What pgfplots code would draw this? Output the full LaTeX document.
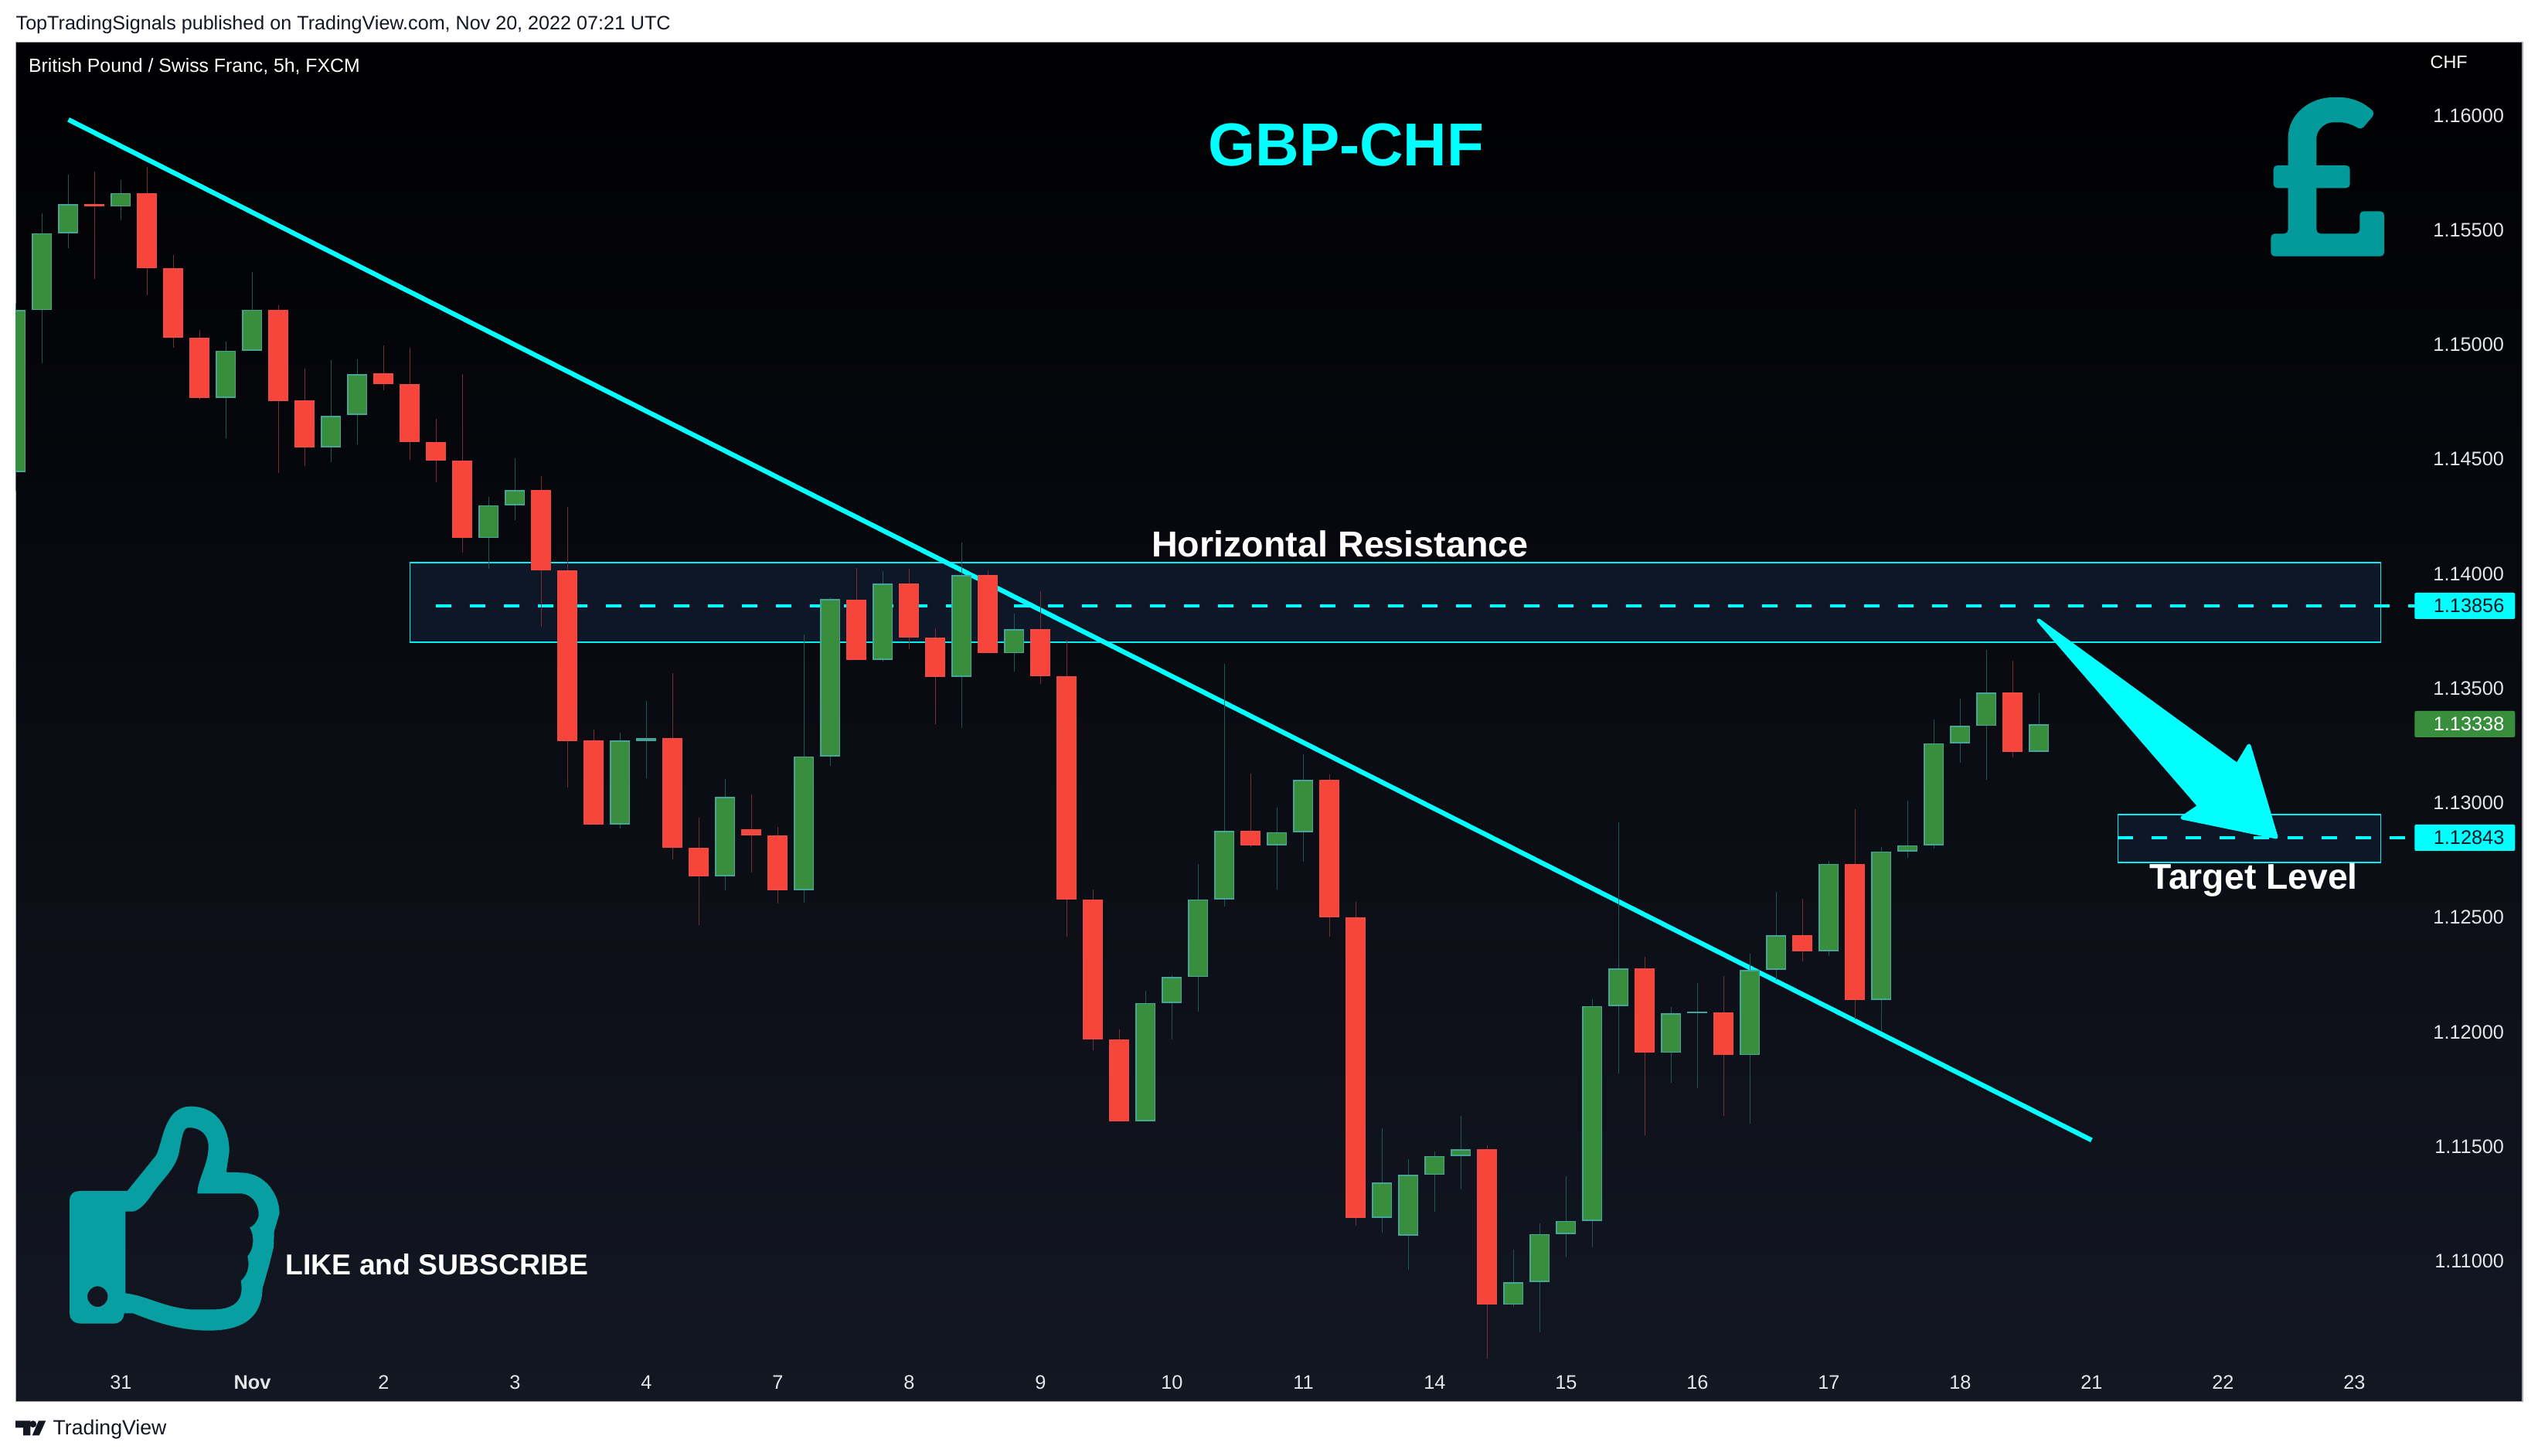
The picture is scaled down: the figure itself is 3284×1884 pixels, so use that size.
\documentclass[border=0pt]{standalone}
\usepackage{pgfplots}
\usepackage{pgfplotstable}
\usepackage{fontspec}
\setmainfont{Liberation Sans}
\pgfplotsset{compat=1.18}

\definecolor{bgtop}{HTML}{000002}
\definecolor{bgbot}{HTML}{131722}
\definecolor{frame}{HTML}{A5A9B3}
\definecolor{up}{HTML}{388E3C}
\definecolor{upedge}{HTML}{45A598}
\definecolor{upwick}{HTML}{1A5A56}
\definecolor{down}{HTML}{F7453B}
\definecolor{downedge}{HTML}{EF4A44}
\definecolor{downwick}{HTML}{7A2E33}
\definecolor{zone}{HTML}{0E1727}
\definecolor{zonecyan}{HTML}{00F0F0}
\definecolor{aqua}{HTML}{00FFFF}
\definecolor{ticktext}{HTML}{E4E6EA}
\definecolor{icon}{HTML}{089FA3}
\definecolor{pound}{HTML}{029A9B}
\definecolor{ink}{HTML}{131722}

% i top bottom high low, prices
\pgfplotstableread{
i top bot high low
-4 1.15146 1.14440 1.15174 1.14358
-3 1.15483 1.15146 1.15569 1.14913
-2 1.15608 1.15483 1.15738 1.15416
0 1.15658 1.15598 1.15713 1.15540
4 1.14970 1.14762 1.15010 1.14589
5 1.15149 1.14970 1.15312 1.14970
8 1.14686 1.14548 1.14929 1.14483
9 1.14868 1.14688 1.14932 1.14560
14 1.14295 1.14151 1.14331 1.14018
15 1.14362 1.14295 1.14500 1.14231
19 1.13267 1.12901 1.13302 1.12884
20 1.13278 1.13266 1.13440 1.13104
23 1.13021 1.12675 1.13099 1.12614
26 1.13199 1.12614 1.13730 1.12560
27 1.13884 1.13199 1.13892 1.13157
29 1.13954 1.13620 1.14006 1.13613
32 1.13989 1.13546 1.14132 1.13321
34 1.13753 1.13648 1.13822 1.13570
39 1.12123 1.11605 1.12176 1.11605
40 1.12235 1.12123 1.12242 1.11964
41 1.12575 1.12235 1.12728 1.12085
42 1.12872 1.12575 1.13601 1.12543
44 1.12868 1.12811 1.12975 1.12618
45 1.13097 1.12868 1.13206 1.12737
48 1.11339 1.11185 1.11574 1.11118
49 1.11371 1.11107 1.11439 1.10956
50 1.11455 1.11371 1.11472 1.11212
51 1.11484 1.11455 1.11629 1.11310
53 1.10904 1.10804 1.11045 1.10794
54 1.11114 1.10904 1.11159 1.10685
55 1.11171 1.11114 1.11365 1.11013
56 1.12109 1.11171 1.12138 1.11054
57 1.12274 1.12109 1.12911 1.11816
59 1.12078 1.11904 1.12104 1.11775
60 1.12083 1.12078 1.12209 1.11751
62 1.12267 1.11894 1.12336 1.11596
63 1.12419 1.12267 1.12606 1.12222
65 1.12730 1.12348 1.12742 1.12326
67 1.12784 1.12136 1.12803 1.11995
68 1.12811 1.12784 1.13004 1.12756
69 1.13256 1.12810 1.13360 1.12796
70 1.13331 1.13256 1.13450 1.13170
71 1.13476 1.13331 1.13663 1.13095
73 1.13338 1.13218 1.13474 1.13218
}\upbars

\pgfplotstableread{
i top bot high low
-1 1.15610 1.15598 1.15751 1.15281
1 1.15658 1.15328 1.15772 1.15213
2 1.15328 1.15025 1.15387 1.14982
3 1.15025 1.14762 1.15059 1.14756
6 1.15149 1.14749 1.15168 1.14435
7 1.14751 1.14548 1.14891 1.14466
10 1.14870 1.14822 1.14992 1.14796
11 1.14822 1.14572 1.14982 1.14493
12 1.14572 1.14491 1.14672 1.14396
13 1.14491 1.14151 1.14866 1.14087
16 1.14362 1.14009 1.14422 1.13764
17 1.14009 1.13266 1.14287 1.13062
18 1.13267 1.12901 1.13315 1.12901
21 1.13278 1.12800 1.13561 1.12749
22 1.12800 1.12675 1.12931 1.12463
24 1.12882 1.12854 1.13032 1.12692
25 1.12854 1.12614 1.12890 1.12557
28 1.13884 1.13620 1.14020 1.13620
30 1.13954 1.13717 1.14016 1.13665
31 1.13717 1.13546 1.13756 1.13340
33 1.13989 1.13648 1.14011 1.13648
35 1.13753 1.13550 1.13920 1.13515
36 1.13550 1.12575 1.13708 1.12410
37 1.12575 1.11964 1.12617 1.11916
38 1.11964 1.11605 1.12006 1.11605
43 1.12872 1.12811 1.13123 1.12804
46 1.13097 1.12496 1.13120 1.12410
47 1.12496 1.11185 1.12563 1.11150
52 1.11484 1.10804 1.11500 1.10570
58 1.12274 1.11904 1.12324 1.11546
61 1.12081 1.11894 1.12240 1.11630
64 1.12419 1.12348 1.12577 1.12305
66 1.12730 1.12136 1.12968 1.12050
72 1.13476 1.13218 1.13616 1.13194
}\downbars

\pgfplotsset{
  bars/.style={draw=none, no markers, forget plot, error bars/.cd, y dir=plus, y explicit, error mark=none, error bar style={#1}},
}
\newcommand{\wicks}[2]{\addplot[bars={line width=0.45pt,color=#2}] table[x=i,y=low,y error plus expr={\thisrow{high}-\thisrow{low}}] {#1};}
\newcommand{\bodies}[3]{%
  \addplot[bars={line width=7.8pt,color=#2}] table[x=i,y=bot,y error plus expr={\thisrow{top}-\thisrow{bot}}] {#1};
  \addplot[bars={line width=6.7pt,color=#3}] table[x=i,y expr={\thisrow{bot}+0.00006},y error plus expr={max(0,\thisrow{top}-\thisrow{bot}-0.00012)}] {#1};}

\begin{document}
\begin{tikzpicture}[x=0.3pt,y=-0.3pt]
\useasboundingbox (0,0) rectangle (3284,1884);
\fill[white] (0,0) rectangle (3284,1884);

\begin{axis}[
  at={(6.15pt,-543.99pt)}, anchor=south west,
  scale only axis, width=973.05pt, height=527.7pt,
  xmin=-4, xmax=91.4, ymin=1.10383, ymax=1.16317,
  axis background/.style={top color=bgtop,bottom color=bgbot},
  axis line style={draw=frame,line width=0.45pt},
  major tick length=0pt,
  xtick={0,5,...,85},
  xticklabels={31,\textbf{Nov},2,3,4,7,8,9,10,11,14,15,16,17,18,21,22,23},
  ytick={1.11,1.115,1.12,1.125,1.13,1.135,1.14,1.145,1.15,1.155,1.16},
  yticklabel pos=right,
  yticklabel style={anchor=east,xshift=-7pt,yshift=-0.4pt,inner sep=0pt,/pgf/number format/.cd,fixed,zerofill,precision=5,assume math mode=true},
  scaled y ticks=false,
  xticklabel style={anchor=base,yshift=4.65pt,inner sep=0pt},
  tick label style={font=\fontsize{7.6}{9}\selectfont,text=ticktext},
]
% zones
\addplot[fill=zone,draw=zonecyan,line width=0.5pt,forget plot] coordinates {(11,1.14044)(86,1.14044)(86,1.13696)(11,1.13696)} --cycle;
\addplot[fill=zone,draw=zonecyan,line width=0.5pt,forget plot] coordinates {(76,1.12944)(86,1.12944)(86,1.12735)(76,1.12735)} --cycle;
% levels
\addplot[aqua,line width=1.2pt,dash pattern=on 6pt off 7.2pt,forget plot] coordinates {(12,1.13856)(87.3,1.13856)};
\addplot[aqua,line width=1.2pt,dash pattern=on 6pt off 7.2pt,forget plot] coordinates {(76,1.12843)(87,1.12843)};
% trend line
\addplot[aqua,line width=1.85pt,forget plot] coordinates {(-2,1.15978)(75,1.11523)};
% candles
\wicks{\upbars}{upwick}
\wicks{\downbars}{downwick}
\bodies{\upbars}{upedge}{up}
\bodies{\downbars}{downedge}{down}
\end{axis}

% arrow
\fill[aqua,draw=aqua,line width=1.5pt,line join=round]
  (2638,803) -- (2895,990) -- (2910,965) -- (2945,1083) -- (2824,1058) -- (2846,1043) -- cycle;

% pound sign
\begin{scope}[shift={(2800,40)},x=0.1pt,y=-0.1pt]
\fill[pound,rounded corners=1.5pt] (415,787) -- (482,787) -- (482,430) .. controls (482,320) and (570,258) .. (670,258)
  .. controls (730,258) and (780,280) .. (820,320) -- (765,385) .. controls (735,365) and (705,355) .. (670,355)
  .. controls (625,355) and (592,385) .. (592,430) -- (592,787) -- (760,787) -- (760,700) -- (855,700) -- (855,875) -- (415,875) -- cycle;
\fill[pound,rounded corners=1.5pt] (425,522) rectangle (722,610);
\end{scope}

% thumb
\begin{scope}[shift={(0,1380)},x=0.1722pt,y=-0.1pt]
\fill[icon,even odd rule] (185,483) -- (287,483) -- (352,345) .. controls (368,290) and (370,155) .. (430,155)
  .. controls (490,155) and (517,240) .. (517,330) -- (510,410) -- (545,412)
  .. controls (600,415) and (630,500) .. (630,570) -- (618,640) -- (617,700) -- (607,770) -- (592,860)
  .. controls (590,950) and (565,1025) .. (470,1025) .. controls (400,1025) and (340,985) .. (300,958) -- (280,958)
  .. controls (278,985) and (270,998) .. (255,998) -- (185,998) .. controls (165,998) and (157,980) .. (157,960) -- (157,520)
  .. controls (157,495) and (165,483) .. (185,483) -- cycle
  (283,563) -- (300,563) .. controls (320,555) and (335,515) .. (345,490) .. controls (370,430) and (400,390) .. (405,320)
  .. controls (410,280) and (412,237) .. (425,237) .. controls (455,237) and (470,270) .. (470,310)
  .. controls (470,380) and (445,440) .. (445,493) -- (545,493) .. controls (575,500) and (585,550) .. (583,580)
  .. controls (580,600) and (575,615) .. (563,625) .. controls (575,660) and (572,710) .. (558,737)
  .. controls (565,780) and (555,815) .. (543,832) .. controls (548,880) and (545,943) .. (480,943) -- (430,943)
  .. controls (370,935) and (330,890) .. (283,880) -- cycle
  (220,893) ellipse [x radius=23,y radius=40];
\end{scope}

% TradingView logo
\fill[ink] (20,1838.3) -- (39.3,1838.3) -- (39.3,1857.3) -- (30,1857.3) -- (30,1847.3) -- (20,1847.3) -- cycle;
\fill[ink] (42.7,1842.7) circle [radius=4.5];
\fill[ink] (50,1838.3) -- (59.3,1838.3) -- (50.7,1857.3) -- (41.7,1857.3) -- cycle;

% texts
\begin{scope}[every node/.style={inner sep=0pt}]
\node[anchor=west,text=ink,font=\fontsize{7.54}{9}\selectfont] at (20,31.6) {TopTradingSignals published on TradingView.com, Nov 20, 2022 07:21 UTC};
\node[anchor=west,text=white,font=\fontsize{7.44}{9}\selectfont] at (36.5,86.5) {British Pound / Swiss Franc, 5h, FXCM};
\node[text=aqua,font=\fontsize{23.5}{26}\selectfont\bfseries] at (1742,188) {GBP-CHF};
\node[anchor=west,text=white,font=\fontsize{7}{8}\selectfont] at (3144,80.7) {CHF};
\node[text=white,font=\fontsize{14}{16}\selectfont\bfseries] at (1734,704) {Horizontal Resistance};
\node[text=white,font=\fontsize{13.9}{16}\selectfont\bfseries] at (2916,1139) {Target Level};
\node[anchor=west,text=white,font=\fontsize{11.2}{14}\selectfont\bfseries] at (369,1636) {LIKE and SUBSCRIBE};
\node[anchor=west,text=ink,font=\fontsize{8}{9}\selectfont] at (68,1850) {TradingView};
\end{scope}

% price boxes
\fill[aqua,rounded corners=0.6pt] (3124.3,767) rectangle (3254.3,801);
\node[anchor=east,inner sep=0pt,text=ink,font=\fontsize{7.6}{9}\selectfont] at (3241,784) {1.13856};
\fill[up,rounded corners=0.6pt] (3124.3,920) rectangle (3254.3,954);
\node[anchor=east,inner sep=0pt,text=white,font=\fontsize{7.6}{9}\selectfont] at (3241,937) {1.13338};
\fill[aqua,rounded corners=0.6pt] (3124.3,1067) rectangle (3254.3,1101);
\node[anchor=east,inner sep=0pt,text=ink,font=\fontsize{7.6}{9}\selectfont] at (3241,1084) {1.12843};
\end{tikzpicture}
\end{document}
